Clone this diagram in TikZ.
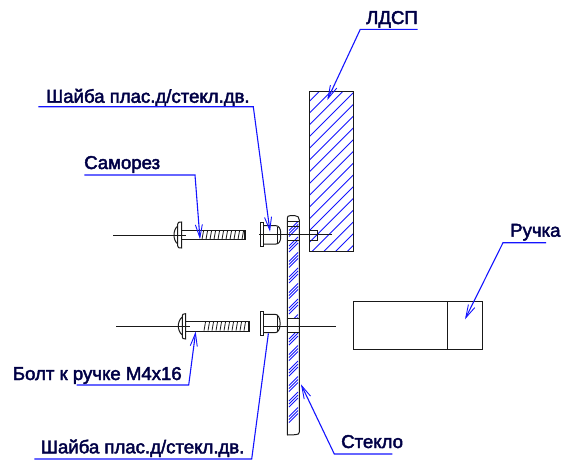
\documentclass[tikz,border=0pt]{standalone}
\usepackage{fontspec}
\setmainfont{Liberation Sans}
\usetikzlibrary{arrows.meta}
\definecolor{lead}{RGB}{20,20,255}
\definecolor{lab}{RGB}{0,0,70}
\definecolor{ink}{RGB}{25,25,25}
\tikzset{
  x=1pt,y=-1pt,
  part/.style={draw=ink,line width=1pt},
  axisline/.style={draw=ink,line width=0.9pt},
  leader/.style={draw=lead,line width=1.1pt},
  tipped/.style={leader,-{Straight Barb[length=13pt,width=7pt,line width=0.9pt]}},
  hatchline/.style={draw=lead,line width=0.9pt},
  lbl/.style={anchor=base west,inner sep=0pt,text=lab,font=\addfontfeature{FakeBold=2.4}\fontsize{18.6}{20}\selectfont}
}
\begin{document}
\begin{tikzpicture}
\useasboundingbox (0,0) rectangle (562,463);
% hatching LDSP
\begin{scope}
\clip (309.3,91.7) rectangle (353.3,251.3);
\foreach \k in {-1,...,17}{
  \pgfmathsetmacro\s{410.7+11.75*\k}
  \draw[hatchline] (\s-91.7,91.7) -- (\s-251.3,251.3);
}
\end{scope}
\draw[part] (309.3,91.7) rectangle (353.3,251.3);
\draw[part] (309.3,230.7) rectangle (317,240.7);
% glass hatching
\begin{scope}
\clip (287.3,218) rectangle (299.3,318.3) (287.3,332.7) rectangle (299.3,431);
\foreach \c in {229,244.5,...,430}{
  \foreach \d in {-3,0,3}{
    \draw[hatchline,line width=0.8pt] (289,\c+\d+4.5) -- (298,\c+\d-4.5);
  }
}
\end{scope}
\draw[part] (287.3,435) -- (287.3,218.5) .. controls (287.3,216.5) and (288,215.7) .. (290,215.7) -- (295,215.7) .. controls (297.5,215.7) and (299.3,217) .. (299.3,220) -- (299.3,432) .. controls (299.3,434) and (298,434.3) .. (296,434.6) .. controls (293,435) and (290,435) .. (287.3,435);
\draw[part] (287.3,221.7) -- (299.3,221.7) (287.3,226.7) -- (299.3,226.7) (287.3,240.7) -- (299.3,240.7);
\draw[part] (287.3,318.3) -- (299.3,318.3) (287.3,332.7) -- (299.3,332.7);
% handle
\draw[part] (353.3,301.3) rectangle (482.3,349.3);
\draw[part] (447.7,301.3) -- (447.7,349.3);
% upper washer
\draw[part] (260.7,222.7) rectangle (263.7,246);
\draw[part] (263.7,225.7) -- (276,225.7) .. controls (279,225.7) and (280.7,229) .. (280.7,233) -- (280.7,237) .. controls (280.7,241) and (279,244) .. (276,244) -- (263.7,244);
\draw[part] (277.7,227) -- (277.7,243);
% lower washer
\draw[part] (260.7,311.7) rectangle (263.7,335.7);
\draw[part] (263.7,314.3) -- (275,314.3) .. controls (278,314.3) and (280,318) .. (280,322) -- (280,325) .. controls (280,329) and (278,332.7) .. (275,332.7) -- (263.7,332.7);
\draw[part] (277,316) -- (277,331);
% upper screw
\draw[part] (177.7,224) .. controls (177.7,222.5) and (178.5,222) .. (181.7,222) -- (181.7,248) .. controls (178.5,248) and (177.7,247.5) .. (177.7,246) -- cycle;
\draw[part] (177.7,226) .. controls (175,228) and (174,232) .. (174,235) .. controls (174,238) and (175,242) .. (177.7,244);
\draw[part] (181.7,230.7) -- (245.5,230.7) -- (245.5,239.7) -- (181.7,239.7);
\foreach \t in {202,206,...,242}{\draw[part,line width=0.8pt] (\t+1.5,231) -- (\t,239.4);}
\draw[part,line width=1.4pt] (244.8,231) -- (244.8,239.4);
% lower screw
\draw[part] (182.3,316) .. controls (182.3,314.3) and (183,313.7) .. (185.7,313.7) -- (185.7,339) .. controls (183,339) and (182.3,338.3) .. (182.3,337) -- cycle;
\draw[part] (182.3,317) .. controls (179.5,319) and (178.3,323) .. (178.3,326) .. controls (178.3,329) and (179.5,333) .. (182.3,335);
\draw[part] (185.7,321.7) -- (249,321.7) -- (249,331) -- (185.7,331);
\foreach \t in {204,208,...,245}{\draw[part,line width=0.8pt] (\t+1.5,322) -- (\t,330.7);}
\draw[part,line width=1.4pt] (248.2,322) -- (248.2,330.7);
% axis lines
\coordinate (axAa) at (113,235); \coordinate (axAb) at (186,235);
\coordinate (axBa) at (116,326); \coordinate (axBb) at (190,326);
\coordinate (axCa) at (259,234.7); \coordinate (axCb) at (331.7,234.7);
\coordinate (axDa) at (264,326.3); \coordinate (axDb) at (335.7,326.3);
\draw[axisline] (axAa) -- (axAb);
\draw[axisline] (axBa) -- (axBb);
\draw[axisline] (axCa) -- (axCb);
\draw[axisline] (axDa) -- (axDb);
% labels
\node[lbl] (ldsp) at (366,24) {ЛДСП};
\node[lbl] (shtop) at (46,102.7) {Шайба плас.д/стекл.дв.};
\node[lbl] (samorez) at (84,169) {Саморез};
\node[lbl] (ruchka) at (510,236.7) {Ручка};
\node[lbl] (bolt) at (12.7,380) {Болт к ручке М4х16};
\node[lbl] (steklo) at (341,448) {Стекло};
\node[lbl] (shbot) at (40.7,453.3) {Шайба плас.д/стекл.дв.};
% leaders
\coordinate (lA1) at (417.7,29.3); \coordinate (lA2) at (360.3,29.3); \coordinate (lA3) at (327.3,100);
\coordinate (lB1) at (38.3,106.7); \coordinate (lB2) at (253.3,106.7); \coordinate (lB3) at (270,231.7);
\coordinate (lC1) at (84.3,175); \coordinate (lC2) at (195,175); \coordinate (lC3) at (200,239.3);
\coordinate (lD1) at (546,242.7); \coordinate (lD2) at (503,242.7); \coordinate (lD3) at (465,319.3);
\coordinate (lE1) at (76.7,385); \coordinate (lE2) at (188.7,385); \coordinate (lE3) at (195.7,331.5);
\coordinate (lF1) at (392.3,454); \coordinate (lF2) at (334.3,454); \coordinate (lF3) at (301,384.3);
\coordinate (lG1) at (34.3,459); \coordinate (lG2) at (251.7,459); \coordinate (lG3) at (268.4,333.3);
\draw[tipped] (lA1) -- (lA2) -- (lA3);
\draw[tipped] (lB1) -- (lB2) -- (lB3);
\draw[tipped] (lC1) -- (lC2) -- (lC3);
\draw[tipped] (lD1) -- (lD2) -- (lD3);
\draw[tipped] (lE1) -- (lE2) -- (lE3);
\draw[tipped] (lF1) -- (lF2) -- (lF3);
\draw[leader] (lG1) -- (lG2) -- (lG3);
\end{tikzpicture}
\end{document}
